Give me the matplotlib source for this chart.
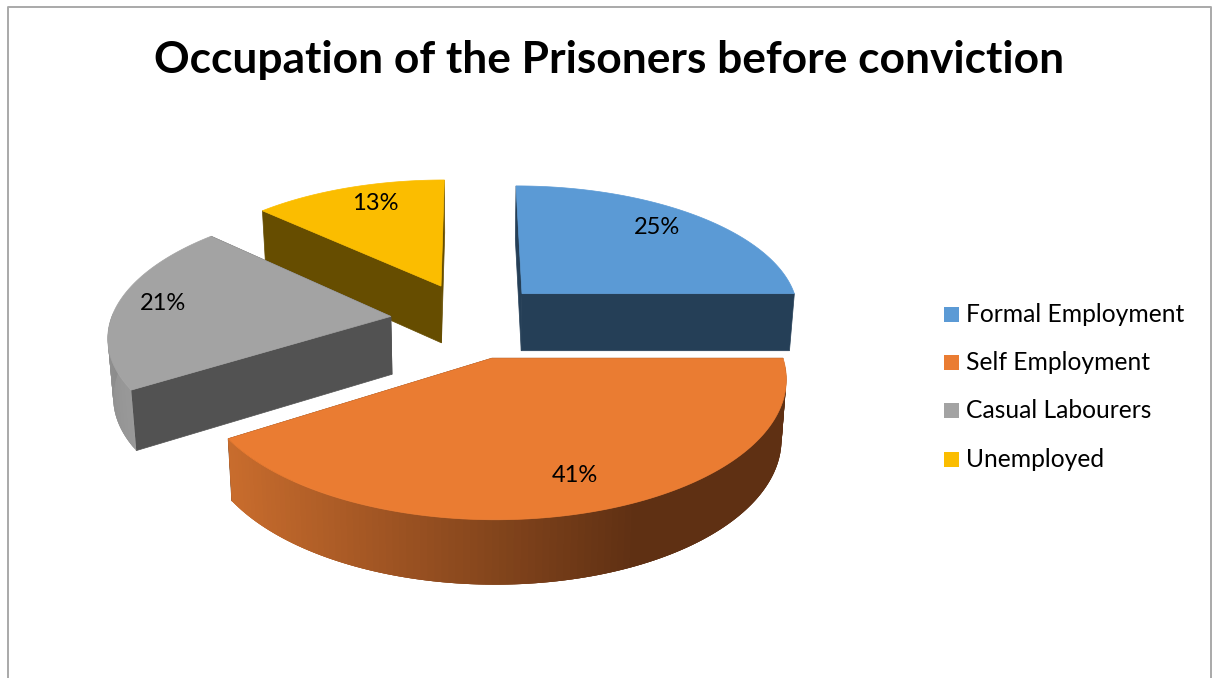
import numpy as np
import matplotlib
matplotlib.use("Agg")
import matplotlib.pyplot as plt
from matplotlib.patches import Polygon, Rectangle

plt.rcParams['font.family'] = ['Lato', 'DejaVu Sans']

title = "Occupation of the Prisoners before conviction"
categories = ["Formal Employment", "Self Employment", "Casual Labourers", "Unemployed"]
shares = [25, 41, 21, 13]
top_colors = ["#5b9ad5", "#ea7c32", "#a3a3a3", "#fbbd00"]
cut_colors = ["#253f57", "#5f3013", "#525252", "#664d00"]
rim_colors = [("#253f57", "#253f57"), ("#5f3013", "#c86c2d"), ("#7a7a7a", "#999999"), ("#997300", "#c79600")]
label_pos = [(657, 228), (575, 476), (163, 304), (375, 203)]

# projection of the tilted pie, in pixels
cx, cy = 470, 320
scale_x, scale_y = 280, 132
persp = -0.137
depth = 58
lean = 0.985
explode_x = [0.27, 0.27, 0.285, 0.27]
explode_y = 0.29
radius_y = 0.975


def project(x, y, lower=False):
    s = 1 / (1 + persp * y)
    px = scale_x * x * s
    py = cy + scale_y * y * s
    if lower:
        return cx + px * lean, py + depth * s ** 0.6
    return cx + px, py


def outline(xs, ys, lower=False):
    return np.array([project(x, y, lower) for x, y in zip(xs, ys)])


fig = plt.figure(figsize=(12.16, 6.78), dpi=100)
ax = fig.add_axes([0, 0, 1, 1])
ax.set_xlim(0, 1216)
ax.set_ylim(678, 0)
ax.axis("off")

# chart frame, the bottom edge runs off the page
ax.plot([8, 8, 1211, 1211], [678, 6.5, 6.5, 678], color="#a9a9a9", lw=1.4)

ax.text(609, 60, title, ha="center", va="center", fontsize=31.9, fontweight="bold", color="black")

# clockwise from twelve o'clock, back slices first
starts = np.cumsum([0] + shares[:-1]) / 100 * 2 * np.pi
spans = np.array(shares) / 100 * 2 * np.pi

for i in [3, 2, 0, 1]:
    a0, a1 = starts[i], starts[i] + spans[i]
    mid = (a0 + a1) / 2
    ox, oy = explode_x[i] * np.sin(mid), -explode_y * np.cos(mid)
    t = np.linspace(a0, a1, 120)
    rx = ox + np.sin(t)
    ry = oy - radius_y * np.cos(t)

    # flat cut faces
    for a in (a0, a1):
        ex, ey = ox + np.sin(a), oy - radius_y * np.cos(a)
        pts = [project(ox, oy), project(ex, ey), project(ex, ey, True), project(ox, oy, True)]
        ax.add_patch(Polygon(pts, closed=True, fc=cut_colors[i], ec=cut_colors[i], lw=0.5))

    # curved outer wall, shaded along its length; strips overlap to hide seams
    upper = outline(rx, ry)
    lower = outline(rx, ry, True)
    dark = np.array(matplotlib.colors.to_rgb(rim_colors[i][0]))
    light = np.array(matplotlib.colors.to_rgb(rim_colors[i][1]))
    for k in range(len(t) - 1):
        if np.cos(t[k]) > 0:
            continue
        f = np.clip((upper[k, 0] - 232) / (640 - 232), 0, 1) if i == 1 else k / (len(t) - 2)
        c = light + (dark - light) * f
        e = min(k + 3, len(t) - 1)
        quad = [upper[k], upper[e], lower[e], lower[k]]
        ax.add_patch(Polygon(quad, closed=True, fc=c, ec="none"))

    # top face
    top = np.vstack([project(ox, oy), upper])
    ax.add_patch(Polygon(top, closed=True, fc=top_colors[i], ec=top_colors[i], lw=0.5))

for share, (lx, ly) in zip(shares, label_pos):
    ax.text(lx, ly, f"{share}%", ha="center", va="center", fontsize=17, color="black")

# legend
legend_y = [315, 363, 411, 459.5]
for name, col, ly in zip(categories, top_colors, legend_y):
    ax.add_patch(Rectangle((944, ly - 8), 15, 15, fc=col, ec="none"))
    ax.text(966, ly, name, ha="left", va="center", fontsize=17.75, color="black")

fig.savefig("out.png", dpi=100)
